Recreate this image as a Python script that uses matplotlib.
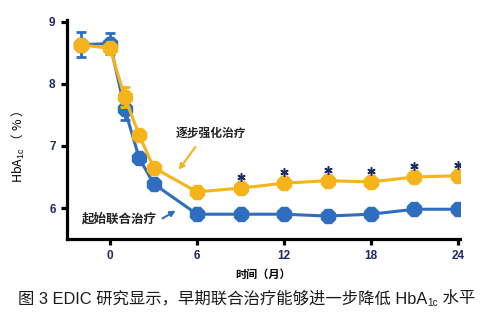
import matplotlib.pyplot as plt
from matplotlib.transforms import offset_copy

plt.rcParams['font.family'] = ['Noto Sans CJK SC', 'DejaVu Sans']
plt.rcParams['mathtext.fontset'] = 'custom'
plt.rcParams['mathtext.rm'] = 'Liberation Sans'
plt.rcParams['mathtext.it'] = 'Liberation Sans'

# HbA1c (%) over time (months)
months = [-2, 0, 1, 2, 3, 6, 9, 12, 15, 18, 21, 24]
stepwise = [8.63, 8.57, 7.79, 7.18, 6.65, 6.26, 6.32, 6.40, 6.44, 6.42, 6.50, 6.52]
stepwise_err = [0, 0, 0.16, 0, 0, 0, 0, 0, 0, 0, 0, 0]
combo = [8.63, 8.65, 7.60, 6.81, 6.39, 5.90, 5.90, 5.90, 5.87, 5.90, 5.98, 5.98]
combo_err = [0.2, 0.17, 0.18, 0, 0, 0, 0, 0, 0, 0, 0, 0]
signif = [9, 12, 15, 18, 21, 24]
xticks = [0, 6, 12, 18, 24]
yticks = [6, 7, 8, 9]

orange = '#F5B31C'
blue = '#2F6EBF'
navy = '#1c2a66'

fig = plt.figure(figsize=(4.9, 3.32), dpi=100)
ax = fig.add_axes([0.136, 0.280, 0.803, 0.660])

ax.errorbar(months, combo, yerr=combo_err, color=blue, lw=2.2, marker='8',
            ms=11.5, capsize=3.5, capthick=2, elinewidth=2, zorder=2)
ax.errorbar(months, stepwise, yerr=stepwise_err, color=orange, lw=2.2, marker='8',
            ms=11.5, capsize=3.5, capthick=2, elinewidth=2, zorder=3)

# significance asterisks just above the stepwise curve
star_tr = offset_copy(ax.transData, fig=fig, y=8, units='points')
star_y = [stepwise[months.index(m)] for m in signif]
ax.plot(signif, star_y, ls='none', marker=(6, 2, 0), ms=6, mew=1.1,
        color=navy, transform=star_tr, zorder=4)

ax.text(4.55, 7.21, '逐步强化治疗', fontsize=8.5, fontweight='bold',
        ha='left', va='center', color='#222222')
ax.annotate('', xy=(4.62, 6.58), xytext=(6.0, 7.02),
            arrowprops=dict(arrowstyle='-|>', color=orange, lw=1.5,
                            mutation_scale=8))
ax.text(3.24, 5.82, '起始联合治疗', fontsize=9, fontweight='bold',
        ha='right', va='center', color='#222222')
ax.annotate('', xy=(4.69, 5.98), xytext=(3.45, 5.81),
            arrowprops=dict(arrowstyle='-|>', color=blue, lw=1.5,
                            mutation_scale=8))

ax.set_xlim(-3, 24.15)
ax.set_ylim(5.5, 9.03)
ax.set_xticks(xticks)
ax.set_yticks(yticks)
for s in ['top', 'right']:
    ax.spines[s].set_visible(False)
for s in ['left', 'bottom']:
    ax.spines[s].set_linewidth(2.3)
ax.tick_params(width=2.3, length=4.5, direction='out')
for lab in ax.get_xticklabels() + ax.get_yticklabels():
    lab.set_family('Liberation Sans')
    lab.set_fontweight('bold')
    lab.set_fontsize(8.5)
    lab.set_color(navy)

ax.set_xlabel('时间（月）', fontsize=8, fontweight='bold', labelpad=4)
ax.set_ylabel('HbA$_{1c}$ （ % ）', fontsize=9, labelpad=7)
ax.yaxis.set_label_coords(-0.1, 0.42)

# caption, built in pieces so the subscript keeps the Latin font
cap_font = ['Liberation Sans', 'Noto Sans CJK SC']
fig.canvas.draw()
r = fig.canvas.get_renderer()
parts = [('图 3 EDIC 研究显示，早期联合治疗能够进一步降低 HbA', 11.8, 0),
         ('1c', 7.2, -3.5),
         (' 水平', 11.8, 0)]
texts = []
for s, size, dy in parts:
    texts.append(fig.text(0, 0, s, fontsize=size, family=cap_font,
                          color='#1a1a1a', va='baseline'))
widths = [t.get_window_extent(r).width for t in texts]
x = (490 - sum(widths)) / 2 + 2
for t, w, (s, size, dy) in zip(texts, widths, parts):
    t.set_position((x / 490, (29 + dy) / 332))
    x += w

fig.savefig('out.png', dpi=100)
